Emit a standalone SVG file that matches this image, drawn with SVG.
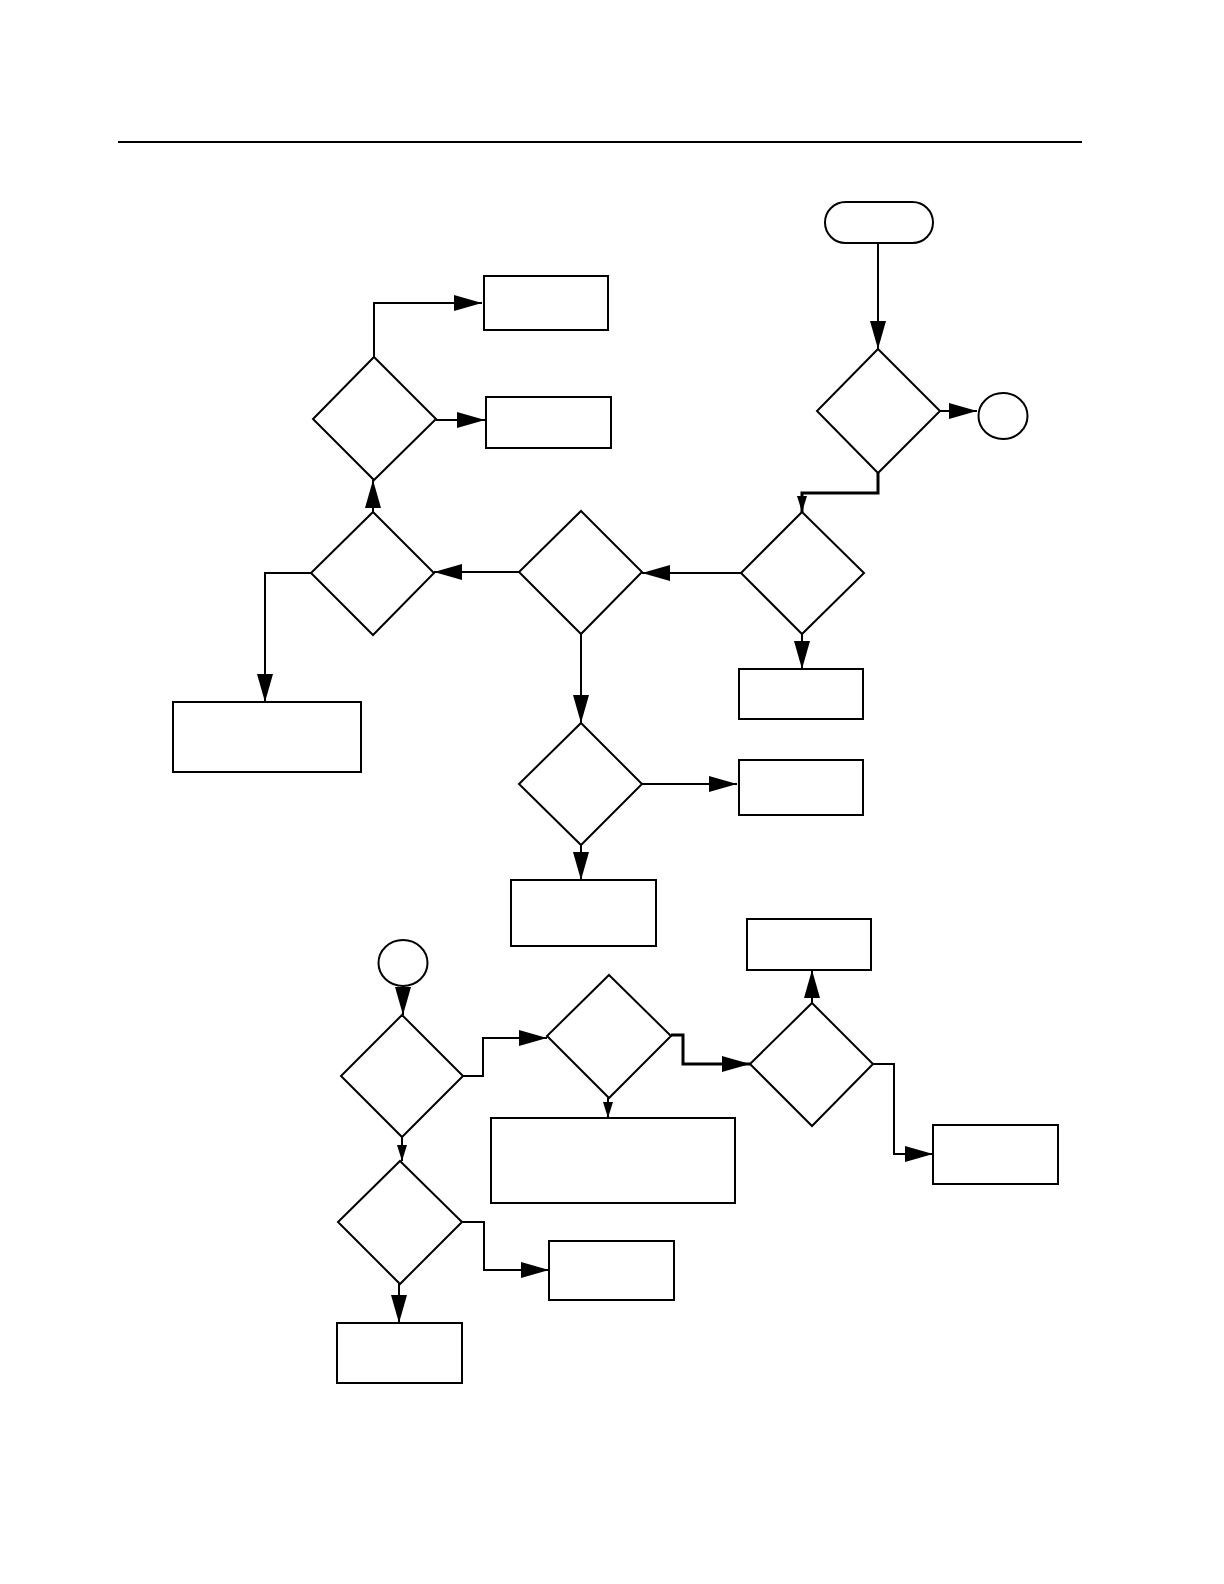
<svg xmlns="http://www.w3.org/2000/svg" width="1224" height="1584" viewBox="0 0 1224 1584">
<style>
.s{fill:#fff;stroke:#000;stroke-width:2}
.c{fill:none;stroke:#000;stroke-width:2}
.t{fill:none;stroke:#000;stroke-width:3}
</style>
<defs>
<marker id="ab" markerUnits="userSpaceOnUse" markerWidth="28" markerHeight="16" refX="28" refY="8" orient="auto" viewBox="0 0 28 16"><path d="M0,0 L28,8 L0,16 Z" fill="#000"/></marker>
<marker id="as" markerUnits="userSpaceOnUse" markerWidth="16" markerHeight="10" refX="16" refY="5" orient="auto" viewBox="0 0 16 10"><path d="M0,0 L16,5 L0,10 Z" fill="#000"/></marker>
</defs>
<rect width="1224" height="1584" fill="#fff"/>
<line x1="118" y1="142" x2="1082" y2="142" stroke="#000" stroke-width="2"/>
<g id="connectors">
<path class="c" d="M878,243 V349" marker-end="url(#ab)"/>
<path class="c" d="M940,411 H977" marker-end="url(#ab)"/>
<path class="t" d="M878,473 V493 H802 V512" marker-end="url(#as)"/>
<path class="c" d="M802,634 V669" marker-end="url(#ab)"/>
<path class="c" d="M741,573 H642" marker-end="url(#ab)"/>
<path class="c" d="M581,634 V723" marker-end="url(#ab)"/>
<path class="c" d="M642,784 H737" marker-end="url(#ab)"/>
<path class="c" d="M581,845 V880" marker-end="url(#ab)"/>
<path class="c" d="M519,572 H434" marker-end="url(#ab)"/>
<path class="c" d="M373,512 V480" marker-end="url(#ab)"/>
<path class="c" d="M374,357 V303 H482" marker-end="url(#ab)"/>
<path class="c" d="M436,420 H485" marker-end="url(#ab)"/>
<path class="c" d="M311,573 H265 V702" marker-end="url(#ab)"/>
<path class="c" d="M403,985 V1015" marker-end="url(#ab)"/>
<path class="c" d="M463,1076 H483 V1038 H547" marker-end="url(#ab)"/>
<path class="t" d="M671,1035 H683 V1064 H750" marker-end="url(#ab)"/>
<path class="c" d="M608,1098 V1118" marker-end="url(#as)"/>
<path class="c" d="M812,1003 V970" marker-end="url(#ab)"/>
<path class="c" d="M873,1064 H894 V1154 H933" marker-end="url(#ab)"/>
<path class="c" d="M402,1137 V1161" marker-end="url(#as)"/>
<path class="c" d="M462,1222 H484 V1270 H549" marker-end="url(#ab)"/>
<path class="c" d="M399,1283 V1323" marker-end="url(#ab)"/>
</g>
<g id="start"><rect class="s" x="825" y="202" width="108" height="41" rx="20.5"/></g>
<g id="d1"><polygon class="s" points="878,349 940,411 878,473 817,411"/></g>
<g id="c1"><ellipse class="s" cx="1003" cy="416" rx="24.5" ry="23"/></g>
<g id="d3"><polygon class="s" points="802,512 864,573 802,634 741,573"/></g>
<g id="r3"><rect class="s" x="739" y="669" width="124" height="50"/></g>
<g id="d2"><polygon class="s" points="581,511 642,572 581,634 519,572"/></g>
<g id="d4"><polygon class="s" points="581,723 642,784 581,845 519,784"/></g>
<g id="r4"><rect class="s" x="739" y="760" width="124" height="55"/></g>
<g id="r5"><rect class="s" x="511" y="880" width="145" height="66"/></g>
<g id="d10"><polygon class="s" points="373,512 434,573 373,635 311,573"/></g>
<g id="d9"><polygon class="s" points="374,357 436,419 374,480 313,419"/></g>
<g id="rA"><rect class="s" x="484" y="276" width="124" height="54"/></g>
<g id="rB"><rect class="s" x="486" y="397" width="125" height="51"/></g>
<g id="rL"><rect class="s" x="173" y="702" width="188" height="70"/></g>
<g id="c2"><ellipse class="s" cx="403" cy="963" rx="24.5" ry="23"/></g>
<g id="d6"><polygon class="s" points="402,1015 463,1076 402,1137 341,1076"/></g>
<g id="d7"><polygon class="s" points="609,975 671,1036 609,1098 547,1036"/></g>
<g id="rBig"><rect class="s" x="491" y="1118" width="244" height="85"/></g>
<g id="rT"><rect class="s" x="747" y="919" width="124" height="51"/></g>
<g id="d5"><polygon class="s" points="812,1003 873,1064 812,1126 750,1064"/></g>
<g id="rR"><rect class="s" x="933" y="1125" width="125" height="59"/></g>
<g id="d8"><polygon class="s" points="400,1161 462,1222 400,1284 338,1222"/></g>
<g id="rM"><rect class="s" x="549" y="1241" width="125" height="59"/></g>
<g id="rBL"><rect class="s" x="337" y="1323" width="125" height="60"/></g>
</svg>
